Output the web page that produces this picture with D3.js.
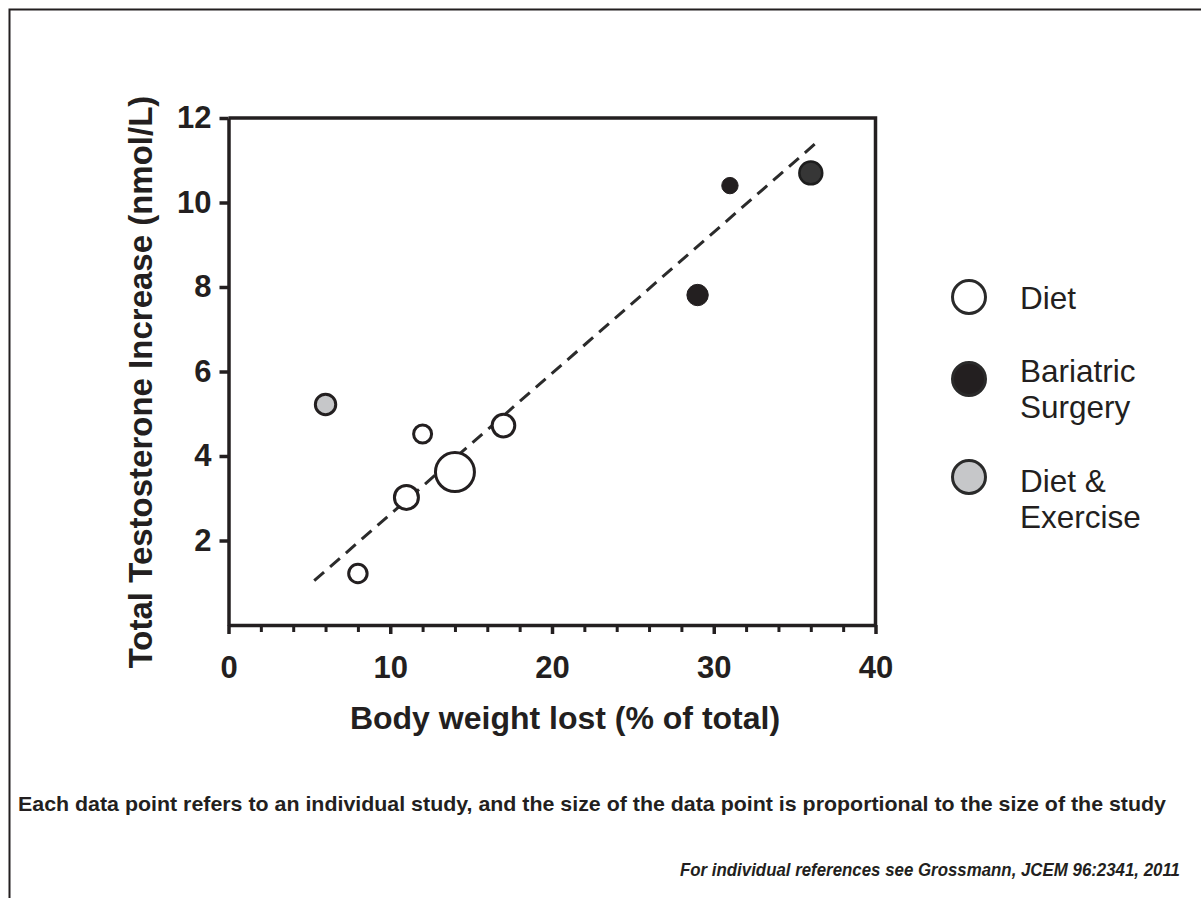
<!DOCTYPE html>
<html>
<head>
<meta charset="utf-8">
<script src="https://cdn.jsdelivr.net/npm/d3@7"></script>
<style>
  html, body { margin: 0; padding: 0; background: #fff; }
  svg { display: block; }
  text { font-family: Arial, "Liberation Sans", Helvetica, sans-serif; fill: #231f20; }
</style>
</head>
<body>
<script>
// ---- data ----
const dietX = [8, 11, 12, 14, 17];
const dietY = [1.22, 3.02, 4.52, 3.62, 4.72];
const dietN = [85, 144, 81, 380, 128];

const surgeryX = [29, 31, 36];
const surgeryY = [7.81, 10.4, 10.7];
const surgeryN = [114, 67, 131];

const exerciseX = [6];
const exerciseY = [5.22];
const exerciseN = [104];

const fitX = [5.3, 36.3];
const fitY = [1.05, 11.4];

const xTicks = [0, 10, 20, 30, 40];
const xMinorTicks = [2, 4, 6, 8, 12, 14, 16, 18, 22, 24, 26, 28, 32, 34, 36, 38];
const yTicks = [2, 4, 6, 8, 10, 12];

const legendLabels = [["Diet"], ["Bariatric", "Surgery"], ["Diet &", "Exercise"]];

const xTitle = "Body weight lost (% of total)";
const yTitle = "Total Testosterone Increase (nmol/L)";
const note1 = "Each data point refers to an individual study, and the size of the data point is proportional to the size of the study";
const note2 = "For individual references see Grossmann, JCEM 96:2341, 2011";

// ---- drawing ----
const W = 1201, H = 898;
const ink = "#231f20";
const svg = d3.select("body").append("svg").attr("width", W).attr("height", H);

// outer frame
svg.append("rect").attr("x", 9.5).attr("y", 9.5).attr("width", 1220).attr("height", 920)
  .attr("fill", "none").attr("stroke", ink).attr("stroke-width", 2);

const x = d3.scaleLinear().domain([0, 40]).range([228.5, 875.5]);
const y = d3.scaleLinear().domain([0, 12]).range([625, 118]);
const r = d3.scaleSqrt().domain([0, 400]).range([0, 20]);

// plot box top & right
svg.append("path")
  .attr("d", `M${x(0)},${y(12)}H${x(40)}V${y(0)}`)
  .attr("fill", "none").attr("stroke", ink).attr("stroke-width", 3.5);

// bottom axis (minor ticks)
svg.append("g").attr("transform", `translate(0,${y(0)})`)
  .call(d3.axisBottom(x).tickValues(xMinorTicks).tickSize(7).tickFormat(""))
  .call(g => g.select(".domain").remove())
  .call(g => g.selectAll("line").attr("stroke", ink).attr("stroke-width", 3));

// bottom axis (major)
svg.append("g").attr("transform", `translate(0,${y(0)})`)
  .call(d3.axisBottom(x).tickValues(xTicks).tickSize(9).tickSizeOuter(0).tickPadding(22))
  .call(g => g.select(".domain").attr("stroke", ink).attr("stroke-width", 3.5))
  .call(g => g.selectAll("line").attr("stroke", ink).attr("stroke-width", 3.5))
  .call(g => g.selectAll("text").attr("font-size", 31).attr("font-weight", "bold")
    .attr("fill", ink).style("font-family", "Arial, 'Liberation Sans', sans-serif"));

// left axis
svg.append("g").attr("transform", `translate(${x(0)},0)`)
  .call(d3.axisLeft(y).tickValues(yTicks).tickSize(9).tickSizeOuter(0).tickPadding(8))
  .call(g => g.select(".domain").attr("stroke", ink).attr("stroke-width", 3.5))
  .call(g => g.selectAll("line").attr("stroke", ink).attr("stroke-width", 3.5))
  .call(g => g.selectAll("text").attr("font-size", 31).attr("font-weight", "bold")
    .attr("fill", ink).style("font-family", "Arial, 'Liberation Sans', sans-serif"));

// axis titles
svg.append("text").attr("x", 565).attr("y", 729).attr("text-anchor", "middle")
  .attr("font-size", 32).attr("font-weight", "bold").text(xTitle);
svg.append("text").attr("transform", `translate(152,382) rotate(-90)`).attr("text-anchor", "middle")
  .attr("font-size", 33).attr("font-weight", "bold").text(yTitle);

// regression line
svg.append("line")
  .attr("x1", x(fitX[0])).attr("y1", y(fitY[0]))
  .attr("x2", x(fitX[1])).attr("y2", y(fitY[1]))
  .attr("stroke", "#2b2b2b").attr("stroke-width", 3).attr("stroke-dasharray", "13,8");

// points
function pts(xs, ys, ns) { return xs.map((v, i) => ({ x: v, y: ys[i], n: ns[i] })); }

svg.append("g").selectAll("circle").data(pts(exerciseX, exerciseY, exerciseN)).join("circle")
  .attr("cx", d => x(d.x)).attr("cy", d => y(d.y)).attr("r", d => r(d.n))
  .attr("fill", "#c6c7c9").attr("stroke", ink).attr("stroke-width", 3);

svg.append("g").selectAll("circle").data(pts(dietX, dietY, dietN)).join("circle")
  .attr("cx", d => x(d.x)).attr("cy", d => y(d.y)).attr("r", d => r(d.n))
  .attr("fill", "#fff").attr("stroke", ink).attr("stroke-width", 3);

svg.append("g").selectAll("circle").data(pts(surgeryX, surgeryY, surgeryN)).join("circle")
  .attr("cx", d => x(d.x)).attr("cy", d => y(d.y)).attr("r", d => r(d.n))
  .attr("fill", (d, i) => i === 2 ? "#363636" : ink)
  .attr("stroke", (d, i) => i === 2 ? "#1e1e1e" : ink)
  .attr("stroke-width", (d, i) => i === 2 ? 2.5 : 1);

// legend
const legendFill = ["#fff", "#231f20", "#c6c7c9"];
const legendCy = [297, 379, 477];
const legendBase = [[309], [382, 418], [492, 528]];
const lg = svg.append("g");
legendLabels.forEach((lines, i) => {
  lg.append("circle").attr("cx", 969).attr("cy", legendCy[i]).attr("r", 16.5)
    .attr("fill", legendFill[i]).attr("stroke", "#2a2a2a").attr("stroke-width", 3);
  lines.forEach((t, j) => {
    lg.append("text").attr("x", 1020).attr("y", legendBase[i][j])
      .attr("font-size", 31.5).text(t);
  });
});

// notes
svg.append("text").attr("x", 18).attr("y", 811).attr("font-size", 21)
  .attr("font-weight", "bold")
  .attr("textLength", 1148).attr("lengthAdjust", "spacingAndGlyphs").text(note1);
svg.append("text").attr("x", 680).attr("y", 876).attr("font-size", 17.5)
  .attr("font-weight", "bold").attr("font-style", "italic")
  .attr("textLength", 500).attr("lengthAdjust", "spacingAndGlyphs").text(note2);
</script>
</body>
</html>
